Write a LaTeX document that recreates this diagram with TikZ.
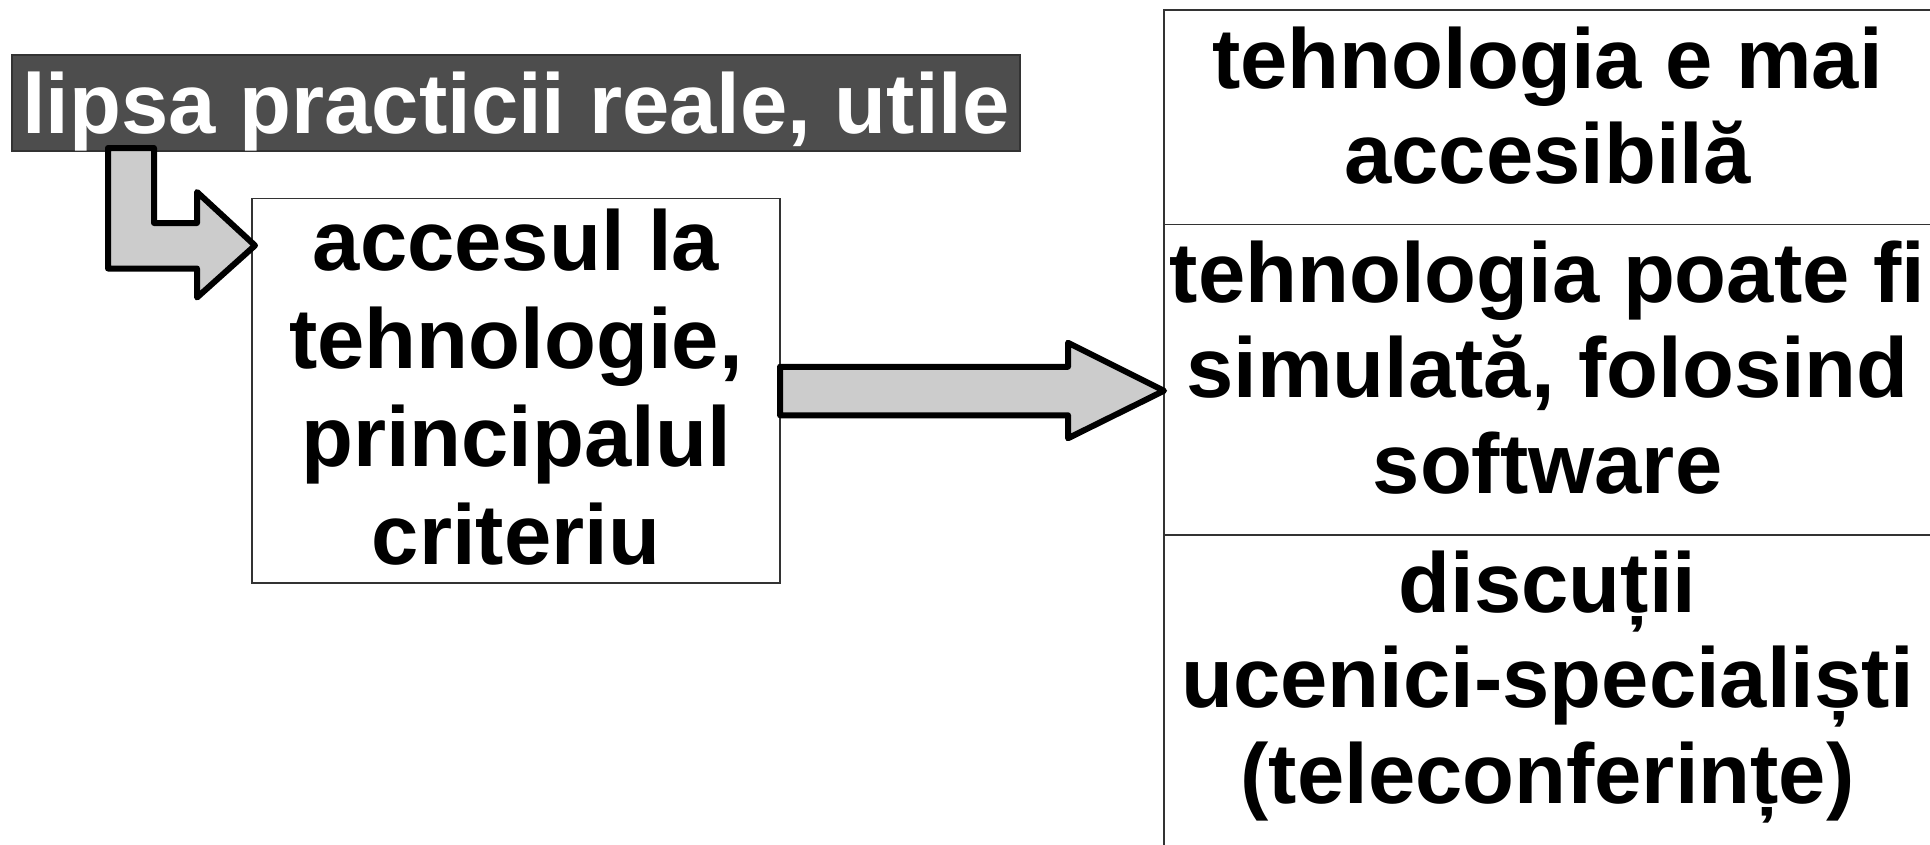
\documentclass[tikz,border=0pt]{standalone}
\usepackage{fontspec}
\setmainfont{Liberation Sans}
\usetikzlibrary{calc}
\definecolor{darkfill}{HTML}{4D4D4D}
\definecolor{arrowfill}{HTML}{CCCCCC}
\newcommand{\lines}[1]{\begin{tabular}[t]{@{}c@{}}#1\end{tabular}}
\tikzset{
  boxbase/.style={inner sep=0pt, outer sep=0pt, anchor=north, line width=1.3pt, draw=black!80},
  plainbox/.style={boxbase, fill=white, font=\bfseries\fontsize{85}{95.5}\selectfont},
  midbox/.style={boxbase, fill=white, font=\bfseries\fontsize{85}{98.3}\selectfont},
  darkbox/.style={boxbase, fill=darkfill, text=white, font=\bfseries\fontsize{85}{97}\selectfont},
  blockarrow/.style={draw=black, fill=arrowfill, line width=6pt, line join=round}
}
\begin{document}
\begin{tikzpicture}[x=1pt,y=-1pt]
\useasboundingbox (0,0) rectangle (1930,844);
\clip (0,0) rectangle (1930,844);
% boxes (text height = top edge to first baseline, text depth = first baseline to bottom edge)
\node[darkbox, minimum width=1008pt, text height=78pt, text depth=18pt] (top) at (516,55) {lipsa practicii reale, utile};
\node[midbox, minimum width=528pt, text height=71.5pt, text depth=313pt] (mid) at (516,198.5)
  {\lines{accesul la\\tehnologie,\\principalul\\criteriu}};
\node[plainbox, minimum width=767pt, text height=78pt, text depth=136.5pt] (r1) at (1547.5,10)
  {\lines{tehnologia e mai\\accesibilă}};
\node[plainbox, minimum width=767pt, text height=77.5pt, text depth=233pt] (r2) at (1547.5,224.5)
  {\lines{tehnologia poate fi\\simulată, folosind\\software}};
\node[plainbox, minimum width=767pt, text height=77pt, text depth=250pt] (r3) at (1547.5,535)
  {\lines{discuții\\ucenici-specialiști\\(teleconferințe)}};
% bent arrow from top box to middle box
\coordinate (tip1) at ($(mid.north west)+(3,47)$);
\draw[blockarrow] ($(top.south west)+(96,-3)$) -- ++(46,0) -- ++(0,75) -- ++(43,0) -- ++(0,-31)
  -- (tip1) -- ++(-58,52) -- ++(0,-29) -- ++(-89,0) -- cycle;
% straight arrow from middle box to right column
\coordinate (tip2) at (r2.west |- mid.east);
\draw[blockarrow] ($(mid.east)+(0,-24)$) -- ++(288,0) -- ++(0,-24) -- (tip2)
  -- ++(-96,47.5) -- ++(0,-23) -- ++(-288,0) -- cycle;
\end{tikzpicture}
\end{document}
